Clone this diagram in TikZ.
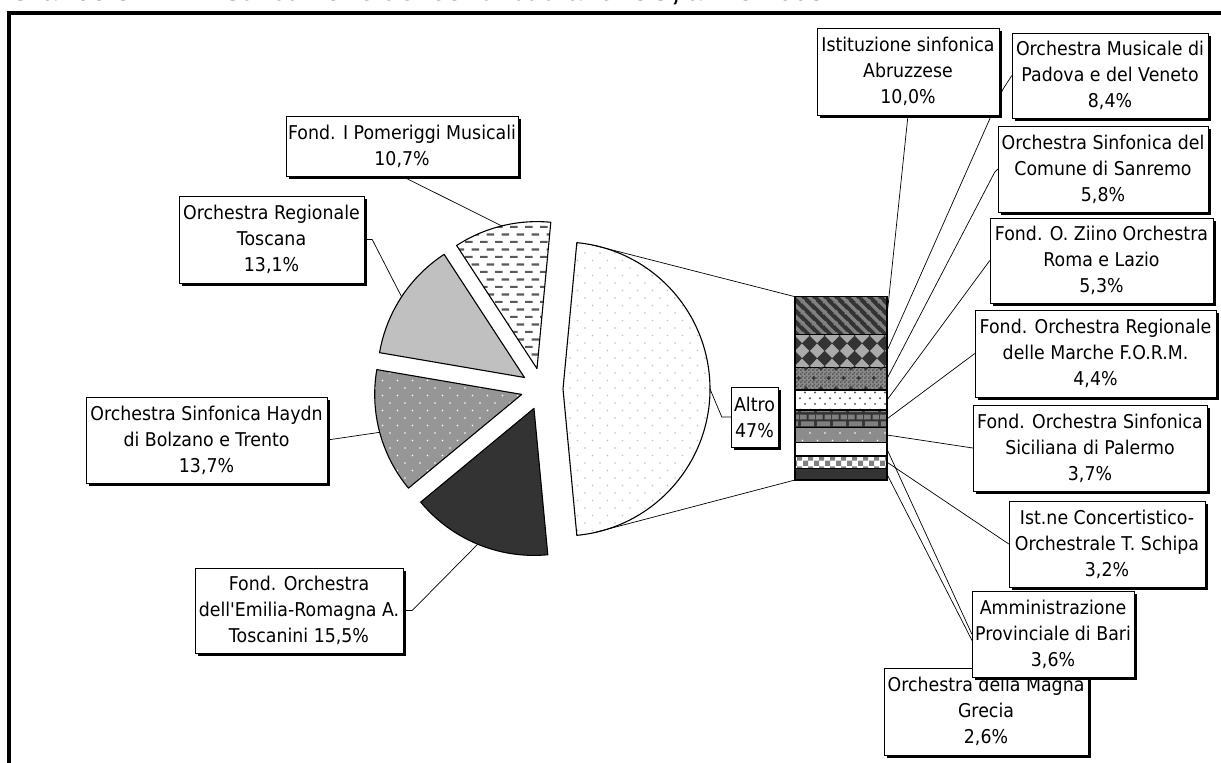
\documentclass[tikz,border=0pt]{standalone}
\usepackage{fontspec}
\setmainfont{DejaVu Sans}[FakeStretch=0.915, Ligatures=TeXOff]
\newfontfamily\ttlfont{Liberation Sans}
\usetikzlibrary{patterns,shadows,calc}

\definecolor{dk}{RGB}{51,51,51}
\definecolor{md}{RGB}{150,150,150}
\definecolor{lt}{RGB}{192,192,192}
\definecolor{gd}{RGB}{128,128,128}
\definecolor{dashc}{RGB}{90,90,90}
\definecolor{segg}{RGB}{140,140,140}
\definecolor{dia}{RGB}{170,170,170}

\pgfdeclarepatternformonly{stagdots}{\pgfqpoint{-1pt}{-1pt}}{\pgfqpoint{14pt}{14pt}}{\pgfqpoint{15pt}{15pt}}{%
  \pgfpathcircle{\pgfqpoint{0pt}{0pt}}{0.9pt}%
  \pgfpathcircle{\pgfqpoint{7.5pt}{7.5pt}}{0.9pt}%
  \pgfusepath{fill}}
\pgfdeclarepatternformonly{smalldots}{\pgfqpoint{-1.2pt}{-1.2pt}}{\pgfqpoint{8.8pt}{10.2pt}}{\pgfqpoint{10pt}{11.4pt}}{%
  \pgfpathcircle{\pgfqpoint{0pt}{0pt}}{1.1pt}%
  \pgfpathcircle{\pgfqpoint{5pt}{5.7pt}}{1.1pt}%
  \pgfusepath{fill}}
\pgfdeclarepatternformonly{dashrows}{\pgfqpoint{0pt}{0pt}}{\pgfqpoint{15pt}{15.4pt}}{\pgfqpoint{15pt}{15.4pt}}{%
  \pgfpathrectangle{\pgfqpoint{0pt}{0pt}}{\pgfqpoint{8pt}{2.2pt}}%
  \pgfpathrectangle{\pgfqpoint{7pt}{7.7pt}}{\pgfqpoint{8pt}{2.2pt}}%
  \pgfusepath{fill}}
\pgfdeclarepatternformonly{bstripes}{\pgfqpoint{0pt}{0pt}}{\pgfqpoint{11pt}{11pt}}{\pgfqpoint{11pt}{11pt}}{%
  \pgfsetlinewidth{3.6pt}%
  \pgfpathmoveto{\pgfqpoint{-1pt}{12pt}}\pgfpathlineto{\pgfqpoint{12pt}{-1pt}}%
  \pgfpathmoveto{\pgfqpoint{-1pt}{1pt}}\pgfpathlineto{\pgfqpoint{1pt}{-1pt}}%
  \pgfpathmoveto{\pgfqpoint{10pt}{12pt}}\pgfpathlineto{\pgfqpoint{12pt}{10pt}}%
  \pgfusepath{stroke}}
\pgfdeclarepatternformonly{diapat}{\pgfqpoint{0pt}{0pt}}{\pgfqpoint{15pt}{15pt}}{\pgfqpoint{15pt}{15pt}}{%
  \pgfpathmoveto{\pgfqpoint{7.5pt}{0pt}}\pgfpathlineto{\pgfqpoint{15pt}{7.5pt}}%
  \pgfpathlineto{\pgfqpoint{7.5pt}{15pt}}\pgfpathlineto{\pgfqpoint{0pt}{7.5pt}}\pgfpathclose
  \pgfusepath{fill}}
\pgfdeclarepatternformonly{finechk}{\pgfqpoint{0pt}{0pt}}{\pgfqpoint{4pt}{4pt}}{\pgfqpoint{4pt}{4pt}}{%
  \pgfpathrectangle{\pgfqpoint{0pt}{0pt}}{\pgfqpoint{2pt}{2pt}}%
  \pgfpathrectangle{\pgfqpoint{2pt}{2pt}}{\pgfqpoint{2pt}{2pt}}%
  \pgfusepath{fill}}
\pgfdeclarepatternformonly{plusmarks}{\pgfqpoint{0pt}{0pt}}{\pgfqpoint{15pt}{20pt}}{\pgfqpoint{15pt}{20pt}}{%
  \pgfpathrectangle{\pgfqpoint{2pt}{4.3pt}}{\pgfqpoint{4pt}{1.4pt}}%
  \pgfpathrectangle{\pgfqpoint{3.3pt}{3pt}}{\pgfqpoint{1.4pt}{4pt}}%
  \pgfpathrectangle{\pgfqpoint{9.5pt}{14.3pt}}{\pgfqpoint{4pt}{1.4pt}}%
  \pgfpathrectangle{\pgfqpoint{10.8pt}{13pt}}{\pgfqpoint{1.4pt}{4pt}}%
  \pgfusepath{fill}}
\pgfdeclarepatternformonly{brickpat}{\pgfqpoint{0pt}{0pt}}{\pgfqpoint{16pt}{14pt}}{\pgfqpoint{16pt}{14pt}}{%
  \pgfpathrectangle{\pgfqpoint{1pt}{1pt}}{\pgfqpoint{14pt}{5pt}}%
  \pgfpathrectangle{\pgfqpoint{0pt}{8pt}}{\pgfqpoint{7pt}{5pt}}%
  \pgfpathrectangle{\pgfqpoint{9pt}{8pt}}{\pgfqpoint{7pt}{5pt}}%
  \pgfusepath{fill}}
\pgfdeclarepatternformonly{chkpat}{\pgfqpoint{0pt}{0pt}}{\pgfqpoint{11pt}{11pt}}{\pgfqpoint{11pt}{11pt}}{%
  \pgfpathrectangle{\pgfqpoint{0pt}{0pt}}{\pgfqpoint{5.5pt}{5.5pt}}%
  \pgfpathrectangle{\pgfqpoint{5.5pt}{5.5pt}}{\pgfqpoint{5.5pt}{5.5pt}}%
  \pgfusepath{fill}}

\newcommand\lblfont{\fontsize{19pt}{26pt}\selectfont}

\begin{document}
\begin{tikzpicture}[x=1pt,y=-1pt,
  slice/.style={draw=black, line width=1.1pt, line join=round},
  seg/.style={draw=black, line width=1.1pt},
  leader/.style={draw=black, line width=0.7pt},
  lbl/.style={draw=black, line width=0.8pt, fill=white, align=center, font=\lblfont,
    inner sep=0pt, general shadow={fill=black, shadow xshift=3pt, shadow yshift=-3pt}}]
\useasboundingbox (0,0) rectangle (1221,763);
\fill[white] (0,0) rectangle (1221,763);

% title (cut off at the top) and frame
\node[anchor=base west, inner sep=0pt, font=\ttlfont\bfseries\fontsize{28pt}{30pt}\selectfont] (ttlA) at (9.5,0.5) {Grafico 8.};
\node[anchor=base west, inner sep=0pt, font=\ttlfont\bfseries\fontsize{28pt}{30pt}\selectfont] (ttlB) at (197,0.5) {Distribuzione dei contributi alle ICO, anno 2008};
\draw[line width=3.7pt] (9,800) -- (9,12.8) -- (1250,12.8);

% pie
\coordinate (pc) at (542,389);
\path (pc) ++(0:21pt) coordinate (aA) ++(0:147pt) coordinate (mA);
\path (pc) ++(103.86:21pt) coordinate (aP) ++(103.86:147pt) coordinate (mP);
\path (pc) ++(146.7:21pt) coordinate (aT) ++(146.7:147pt) coordinate (mT);
\path (pc) ++(194.94:21pt) coordinate (aH) ++(194.94:147pt) coordinate (mH);
\path (pc) ++(247.5:21pt) coordinate (aK) ++(247.5:147pt) coordinate (mK);
\path (aA) ++(78:147pt) coordinate (altT);
\path (aA) ++(-78:147pt) coordinate (altB);

\draw[slice, preaction={fill=white}, pattern=stagdots, pattern color=lt]
  (aA) -- ++(-84.6:147pt) arc[start angle=-84.6, end angle=84.6, radius=147pt] -- cycle;
\draw[slice, preaction={fill=white}, pattern=dashrows, pattern color=dashc]
  (aP) -- ++(84.6:147pt) arc[start angle=84.6, end angle=123.12, radius=147pt] -- cycle;
\draw[slice, fill=lt]
  (aT) -- ++(123.12:147pt) arc[start angle=123.12, end angle=170.28, radius=147pt] -- cycle;
\draw[slice, preaction={fill=md}, pattern=stagdots, pattern color=white]
  (aH) -- ++(170.28:147pt) arc[start angle=170.28, end angle=219.6, radius=147pt] -- cycle;
\draw[slice, fill=dk]
  (aK) -- ++(219.6:147pt) arc[start angle=219.6, end angle=275.4, radius=147pt] -- cycle;

% bar of the "Altro" slice
\coordinate (bTL) at (795,296.7);
\coordinate (bBL) at (795,480);
\draw[leader] (altT) -- (bTL);
\draw[leader] (altB) -- (bBL);

\draw[seg, preaction={fill=dk}, pattern=bstripes, pattern color=gd] (795,296.7) rectangle (887,334.3);
\draw[seg, preaction={fill=dk}, pattern=diapat, pattern color=dia] (795,334.3) rectangle (887,367.3);
\draw[seg, preaction={fill=segg}, pattern=finechk, pattern color=dashc,
  postaction={pattern=plusmarks, pattern color=dk}] (795,367.3) rectangle (887,390);
\draw[seg, preaction={fill=white}, pattern=smalldots, pattern color=dashc] (795,390) rectangle (887,410);
\draw[seg, preaction={fill=dk}, pattern=brickpat, pattern color=gd] (795,410) rectangle (887,427.7);
\draw[seg, preaction={fill=segg}, pattern=stagdots, pattern color=white] (795,427.7) rectangle (887,442.3);
\draw[seg, fill=white] (795,442.3) rectangle (887,456);
\draw[seg, preaction={fill=white}, pattern=chkpat, pattern color=gd] (795,456) rectangle (887,468.3);
\draw[seg, fill=dk] (795,468.3) rectangle (887,480);

\coordinate (s1) at (887,315.5);
\coordinate (s2) at (887,350.8);
\coordinate (s3) at (887,378.7);
\coordinate (s4) at (887,400);
\coordinate (s5) at (887,418.9);
\coordinate (s6) at (887,435);
\coordinate (s7) at (887,449.2);
\coordinate (s8) at (887,462.2);
\coordinate (s9) at (887,474.2);

% label positions (empty placeholders give the anchors for the leaders)
\path
  (908,71.5)     node[minimum width=182pt, minimum height=87pt, inner sep=0pt] (abr) {}
  (1110,75.5)    node[minimum width=196pt, minimum height=85pt, inner sep=0pt] (pad) {}
  (1103,169)     node[minimum width=210pt, minimum height=86pt, inner sep=0pt] (san) {}
  (1101.5,260.5) node[minimum width=223pt, minimum height=85pt, inner sep=0pt] (zii) {}
  (1095.5,353.5) node[minimum width=241pt, minimum height=87pt, inner sep=0pt] (mar) {}
  (1090,448)     node[minimum width=234pt, minimum height=86pt, inner sep=0pt] (pal) {}
  (1107,544)     node[minimum width=196pt, minimum height=86pt, inner sep=0pt] (sch) {}
  (1053,634)     node[minimum width=162pt, minimum height=86pt, inner sep=0pt] (bari) {}
  (986,711.5)    node[minimum width=204pt, minimum height=87pt, inner sep=0pt] (mag) {}
  (402,146)      node[minimum width=232pt, minimum height=60pt, inner sep=0pt] (pom) {}
  (271.5,239.5)  node[minimum width=185pt, minimum height=87pt, inner sep=0pt] (tos) {}
  (206.5,440)    node[minimum width=241pt, minimum height=86pt, inner sep=0pt] (hay) {}
  (299,610.5)    node[minimum width=208pt, minimum height=85pt, inner sep=0pt] (tsc) {}
  (754.5,417)    node[minimum width=47pt, minimum height=60pt, inner sep=0pt] (alt) {};

% leaders
\draw[leader] (mA) -- ($(alt.west)+(-9pt,0)$) -- (alt.west);
\draw[leader] (mP) -- (pom.south);
\draw[leader] (mT) -- ($(tos.east)+(8pt,0)$) -- (tos.east);
\draw[leader] (mH) -- (hay.east);
\draw[leader] (mK) -- ($(tsc.east)+(9pt,0)$) -- (tsc.east);
\draw[leader] (s1) -- (abr.south);
\draw[leader] (s2) -- ($(pad.west)+(-9pt,-14pt)$) -- (pad.west);
\draw[leader] (s3) -- ($(san.west)+(-3pt,-3pt)$) -- (san.west);
\draw[leader] (s4) -- (zii.west);
\draw[leader] (s5) -- (mar.west);
\draw[leader] (s6) -- (pal.west);
\draw[leader] (s7) -- (bari.west);
\draw[leader] (s8) -- (sch.west);
\draw[leader] (s9) -- (mag.north);

% label boxes
\node[lbl, minimum width=182pt, minimum height=87pt] at (abr) {Istituzione sinfonica\\Abruzzese\\10,0\%};
\node[lbl, minimum width=196pt, minimum height=85pt] at (pad) {Orchestra Musicale di\\Padova e del Veneto\\8,4\%};
\node[lbl, minimum width=210pt, minimum height=86pt] at (san) {Orchestra Sinfonica del\\Comune di Sanremo\\5,8\%};
\node[lbl, minimum width=223pt, minimum height=85pt] at (zii) {Fond. O. Ziino Orchestra\\Roma e Lazio\\5,3\%};
\node[lbl, minimum width=241pt, minimum height=87pt] at (mar) {Fond. Orchestra Regionale\\delle Marche F.O.R.M.\\4,4\%};
\node[lbl, minimum width=234pt, minimum height=86pt] at (pal) {Fond. Orchestra Sinfonica\\Siciliana di Palermo\\3,7\%};
\node[lbl, minimum width=196pt, minimum height=86pt] at (sch) {Ist.ne Concertistico-\\Orchestrale T. Schipa\\3,2\%};
\node[lbl, minimum width=204pt, minimum height=87pt] at (mag) {Orchestra della Magna\\Grecia\\2,6\%};
\node[lbl, minimum width=162pt, minimum height=86pt] at (bari) {Amministrazione\\Provinciale di Bari\\3,6\%};
\node[lbl, minimum width=232pt, minimum height=60pt] at (pom) {Fond. I Pomeriggi Musicali\\10,7\%};
\node[lbl, minimum width=185pt, minimum height=87pt] at (tos) {Orchestra Regionale\\Toscana\\13,1\%};
\node[lbl, minimum width=241pt, minimum height=86pt] at (hay) {Orchestra Sinfonica Haydn\\di Bolzano e Trento\\13,7\%};
\node[lbl, minimum width=208pt, minimum height=85pt] at (tsc) {Fond. Orchestra\\dell'Emilia-Romagna A.\\Toscanini 15,5\%};
\node[lbl, minimum width=47pt, minimum height=60pt] at (alt) {Altro\\47\%};
\end{tikzpicture}
\end{document}
